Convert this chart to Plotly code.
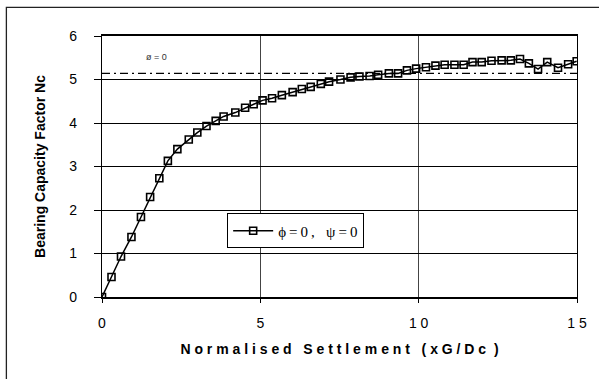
import plotly.graph_objects as go

# Data
settlement = [0, 0.30, 0.60, 0.93, 1.23, 1.52, 1.81, 2.08, 2.38, 2.74, 3.01, 3.30, 3.59, 3.84,
              4.21, 4.52, 4.79, 5.07, 5.37, 5.68, 6.02, 6.31, 6.59, 6.91, 7.17, 7.53, 7.85,
              8.13, 8.45, 8.72, 9.06, 9.35, 9.63, 9.92, 10.23, 10.53, 10.82, 11.13, 11.42,
              11.70, 11.99, 12.30, 12.62, 12.91, 13.20, 13.48, 13.77, 14.06, 14.40, 14.72, 14.99]
nc = [0, 0.46, 0.93, 1.38, 1.84, 2.30, 2.73, 3.13, 3.40, 3.62, 3.78, 3.93, 4.05, 4.15,
      4.24, 4.35, 4.43, 4.52, 4.57, 4.64, 4.71, 4.78, 4.83, 4.90, 4.95, 5.00, 5.05,
      5.07, 5.08, 5.11, 5.14, 5.14, 5.21, 5.25, 5.28, 5.32, 5.34, 5.34, 5.34,
      5.40, 5.40, 5.43, 5.44, 5.44, 5.47, 5.37, 5.24, 5.40, 5.27, 5.35, 5.42]
ref_x = [0, 15]
ref_nc = [5.14, 5.14]
x_tickvals = [0, 5, 10, 15]
x_ticktext = ["0", "5", "1 0", "1 5"]
y_tickvals = [0, 1, 2, 3, 4, 5, 6]

fig = go.Figure()
fig.add_trace(go.Scatter(x=ref_x, y=ref_nc, mode="lines",
                         line=dict(color="black", width=1.3, dash="8px,4px,2px,4px"),
                         showlegend=False, hoverinfo="skip"))
fig.add_trace(go.Scatter(x=settlement, y=nc, mode="lines+markers",
                         name="ϕ\u2009=\u20090\u2009,\u2002 ψ\u2009=\u20090",
                         line=dict(color="black", width=1.5),
                         marker=dict(symbol="square-open", size=7, color="black",
                                     line=dict(width=1.6, color="black"))))

fig.add_annotation(x=1.73, y=5.51, text="ø = 0", showarrow=False,
                   font=dict(family="Liberation Sans, Arial", size=9, color="#333"))

# outer frame
fig.add_shape(type="rect", xref="paper", yref="paper",
              x0=-0.2013, x1=1.08, y0=-0.4, y1=1.1097,
              line=dict(color="#222", width=1.3), fillcolor="rgba(0,0,0,0)")

fig.update_layout(
    width=599, height=379,
    margin=dict(l=102, r=20, t=36, b=82),
    paper_bgcolor="white", plot_bgcolor="white",
    font=dict(family="Liberation Sans, Arial", color="black"),
    legend=dict(x=0.2635, y=0.32, xanchor="left", yanchor="top",
                bgcolor="white", bordercolor="black", borderwidth=1,
                font=dict(family="Liberation Serif, Times New Roman", size=15),
                itemwidth=40, tracegroupgap=0),
    xaxis=dict(range=[0, 15], tickvals=x_tickvals, ticktext=x_ticktext,
               showgrid=True, gridcolor="#444", gridwidth=1,
               showline=True, linecolor="black", linewidth=1.8, mirror=True,
               ticks="outside", ticklen=4, tickcolor="black",
               tickfont=dict(size=14), zeroline=False, ticklabelstandoff=8,
               title=dict(text="N o r m a l i s e d   S e t t l e m e n t   ( x G / D c  )",
                          font=dict(size=14, weight="bold"), standoff=14)),
    yaxis=dict(range=[0, 6], tickvals=y_tickvals,
               showgrid=True, gridcolor="black", gridwidth=1,
               showline=True, linecolor="black", linewidth=1.3, mirror=True,
               ticks="outside", ticklen=7, tickcolor="black",
               tickfont=dict(size=14), zeroline=False, ticklabelstandoff=14,
               title=dict(text="Bearing Capacity Factor Nc",
                          font=dict(size=14, weight="bold"), standoff=20)),
)

fig.write_html("out.html")
